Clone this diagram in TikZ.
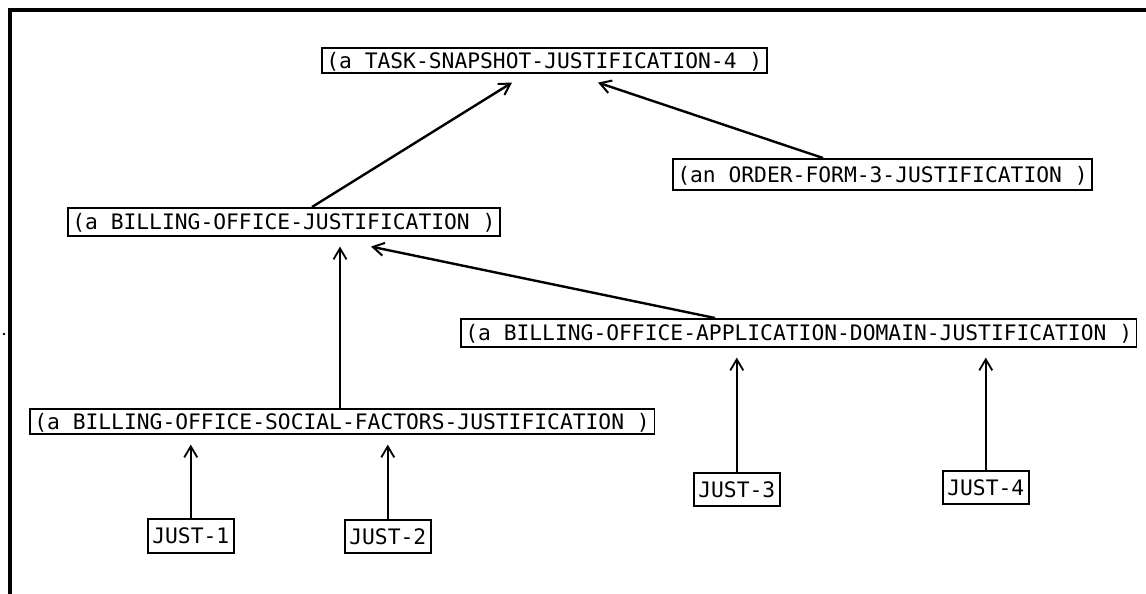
\documentclass[tikz,border=0pt]{standalone}
\usepackage{fontspec}
\newfontfamily\monofont{DejaVu Sans Mono}
\usetikzlibrary{arrows.meta,calc}
\begin{document}
\begin{tikzpicture}[x=1pt,y=-1pt,
  jbox/.style={draw,line width=1.6pt,anchor=north west,inner xsep=4.5pt,inner ysep=0pt,
    font=\monofont\fontsize{21.3}{25}\selectfont,text height=15.5pt,text depth=0pt},
  link/.style={line width=2.4pt,-{Straight Barb[length=11pt,width=13pt,line width=2pt]}},
  vlink/.style={line width=1.6pt,-{Straight Barb[length=11pt,width=13pt,line width=1.8pt]}}]
\useasboundingbox (0,0) rectangle (1146,594);
% frame (top and left edges only)
\draw[line width=3.5pt] (1146,10) -- (10,10) -- (10,594);
\fill (4,334) circle (1.3pt);
% justification nodes
\node[jbox,minimum height=25pt] (task) at (321,47) {(a TASK-SNAPSHOT-JUSTIFICATION-4 )};
\node[jbox,minimum height=31pt] (order) at (672,158) {(an ORDER-FORM-3-JUSTIFICATION )};
\node[jbox,minimum height=28pt] (bj) at (67,207) {(a BILLING-OFFICE-JUSTIFICATION )};
\node[jbox,minimum height=28pt] (app) at (460,318) {(a BILLING-OFFICE-APPLICATION-DOMAIN-JUSTIFICATION )};
\node[jbox,minimum height=25pt] (soc) at (29,408) {(a BILLING-OFFICE-SOCIAL-FACTORS-JUSTIFICATION )};
\node[jbox,minimum height=34pt] (j1) at (147,518) {JUST-1};
\node[jbox,minimum height=33pt] (j2) at (344,519) {JUST-2};
\node[jbox,minimum height=33pt] (j3) at (693,472) {JUST-3};
\node[jbox,minimum height=33pt] (j4) at (942,470) {JUST-4};
% x positions where the slanted links meet the boxes
\coordinate (xa) at (312,0);
\coordinate (xb) at (512,0);
\coordinate (xc) at (823,0);
\coordinate (xd) at (598,0);
\coordinate (xe) at (340,0);
\coordinate (xf) at (715,0);
\coordinate (xg) at (371,0);
% links
\draw[link] (bj.north -| xa) -- ($(task.south -| xb)+(0,9)$);
\draw[link] (order.north -| xc) -- ($(task.south -| xd)+(0,9)$);
\draw[vlink] (soc.north -| xe) -- ($(bj.south -| xe)+(0,10)$);
\draw[link] (app.north -| xf) -- ($(bj.south -| xg)+(0,10)$);
\draw[vlink] (j1.north) -- ($(soc.south -| j1.north)+(0,10)$);
\draw[vlink] (j2.north) -- ($(soc.south -| j2.north)+(0,10)$);
\draw[vlink] (j3.north) -- ($(app.south -| j3.north)+(0,10)$);
\draw[vlink] (j4.north) -- ($(app.south -| j4.north)+(0,10)$);
\end{tikzpicture}
\end{document}
